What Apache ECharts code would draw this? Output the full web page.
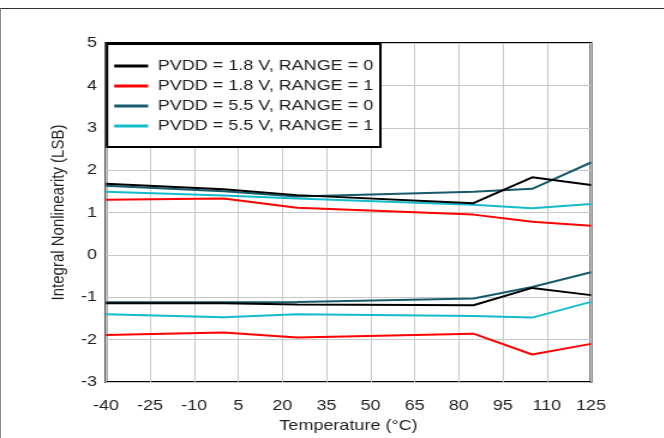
<!DOCTYPE html>
<html><head><meta charset="utf-8">
<script src="https://cdn.jsdelivr.net/npm/echarts@6/dist/echarts.min.js"></script>
<style>
html,body{margin:0;padding:0;background:#fff;overflow:hidden}
#wrap{width:664px;height:438px;position:relative;overflow:hidden}
#c{width:553.333px;height:438px;transform:scaleX(1.2);transform-origin:0 0}
#frame{position:absolute;left:0;top:8px;width:664px;height:430px;border-top:1px solid #333;border-left:1px solid #888;box-sizing:border-box;pointer-events:none}
</style>
</head><body><div id="wrap"><div id="c"></div><div id="frame"></div></div>
<script>
const temps = [-40, 0, 25, 85, 105, 125];
const xTicks = [-40, -25, -10, 5, 20, 35, 50, 65, 80, 95, 110, 125];
const yTicks = [-3, -2, -1, 0, 1, 2, 3, 4, 5];
const names = ['PVDD = 1.8 V, RANGE = 0', 'PVDD = 1.8 V, RANGE = 1', 'PVDD = 5.5 V, RANGE = 0', 'PVDD = 5.5 V, RANGE = 1'];
const colors = ['#000000', '#ff0000', '#175a6c', '#14bccb'];
// upper curves (max INL) and lower curves (min INL)
const hi18r0 = [1.68, 1.55, 1.41, 1.22, 1.83, 1.65];
const lo18r0 = [-1.14, -1.14, -1.17, -1.19, -0.78, -0.95];
const hi18r1 = [1.30, 1.33, 1.11, 0.95, 0.78, 0.69];
const lo18r1 = [-1.89, -1.83, -1.95, -1.86, -2.35, -2.10];
const hi55r0 = [1.63, 1.50, 1.38, 1.49, 1.56, 2.18];
const lo55r0 = [-1.12, -1.12, -1.11, -1.03, -0.76, -0.41];
const hi55r1 = [1.49, 1.40, 1.33, 1.18, 1.10, 1.20];
const lo55r1 = [-1.40, -1.47, -1.40, -1.44, -1.48, -1.11];

const groups = [[hi18r0, lo18r0], [hi18r1, lo18r1], [hi55r0, lo55r0], [hi55r1, lo55r1]];
const series = [];
groups.forEach((g, i) => {
  g.forEach((arr) => {
    series.push({
      name: names[i], type: 'line', symbol: 'none', silent: true,
      data: temps.map((t, j) => [t, arr[j]]),
      lineStyle: { color: colors[i], width: 2 },
      itemStyle: { color: colors[i] },
      z: 3 + (3 - i)
    });
  });
});
const font = 'Liberation Sans, Arial, sans-serif';
const chart = echarts.init(document.getElementById('c'), null, { renderer: 'canvas' });
chart.setOption({
  animation: false,
  grid: { left: 88.33, top: 43, width: 404.17, height: 343, show: true, borderColor: '#000', borderWidth: 2, backgroundColor: 'transparent' },
  xAxis: {
    type: 'value', min: xTicks[0], max: xTicks[xTicks.length - 1], interval: 15,
    name: 'Temperature (°C)', nameLocation: 'middle', nameGap: 36,
    nameTextStyle: { fontFamily: font, fontSize: 15, color: '#222' },
    axisLine: { show: false }, axisTick: { show: false },
    axisLabel: { fontFamily: font, fontSize: 15, color: '#222', margin: 16 },
    splitLine: { lineStyle: { color: '#c8c8c8', width: 1 } }
  },
  yAxis: {
    type: 'value', min: yTicks[0], max: yTicks[yTicks.length - 1], interval: 1,
    name: 'Integral Nonlinearity (LSB)', nameLocation: 'middle', nameGap: 29,
    nameTextStyle: { fontFamily: font, fontSize: 15, color: '#222' },
    axisLine: { show: false }, axisTick: { show: false },
    axisLabel: { fontFamily: font, fontSize: 15, color: '#222', margin: 7.5 },
    splitLine: { lineStyle: { color: '#c8c8c8', width: 1 } }
  },
  legend: {
    data: names.map(n => ({ name: n, icon: 'rect' })),
    orient: 'vertical', left: 89.17, top: 44, itemWidth: 28.3, itemHeight: 3, itemGap: 0,
    padding: [12, 6, 11, 6], borderColor: '#000', borderWidth: 2, backgroundColor: '#fff',
    textStyle: { fontFamily: font, fontSize: 15, color: '#222', lineHeight: 20, padding: [0, 0, 0, 3] },
    selectedMode: false, z: 10
  },
  series: series
});
</script></body></html>
